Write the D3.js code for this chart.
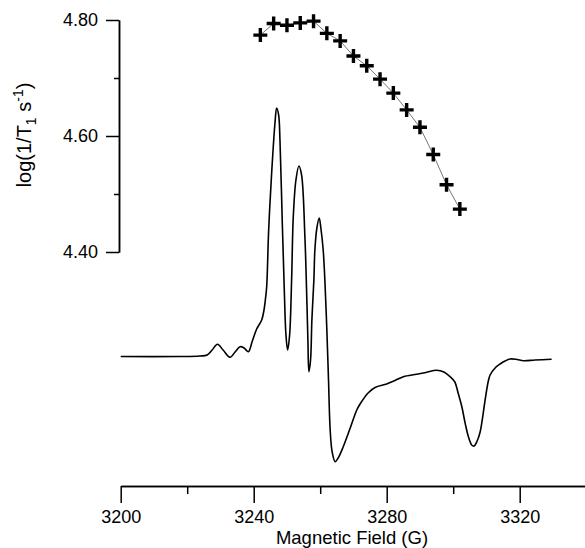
<!DOCTYPE html>
<html>
<head>
<meta charset="utf-8">
<script src="https://cdn.jsdelivr.net/npm/d3@7"></script>
<style>
  body { margin: 0; background: #fff; }
  svg { display: block; font-family: "Liberation Sans", Arial, sans-serif; }
  .axis path, .axis line { stroke: #000; stroke-width: 1.5px; }
  .axis text { fill: #000; font-size: 18px; }
</style>
</head>
<body>
<div id="chart"></div>
<script>
// relaxation data: log(1/T1) against field
var t1Field = [3242, 3246, 3250, 3254, 3258, 3262, 3266, 3270, 3274, 3278, 3282, 3286, 3290, 3294, 3298, 3302];
var t1LogRate = [4.774, 4.794, 4.791, 4.795, 4.798, 4.777, 4.764, 4.738, 4.721, 4.698, 4.674, 4.645, 4.615, 4.568, 4.516, 4.474];

// EPR spectrum (arbitrary intensity units)
var specField = [3200, 3217.8, 3223.8, 3226.0, 3227.5, 3229.1, 3230.8, 3232.9, 3234.4, 3235.9, 3237.1, 3238.4,
    3239.5, 3240.9, 3242.4, 3243.1, 3243.5, 3243.9, 3244.5, 3245.4, 3246.4, 3246.9, 3247.5, 3247.9, 3248.6,
    3249.2, 3249.7, 3250.2, 3250.8, 3251.4, 3251.9, 3252.7, 3253.6, 3254.4, 3255.4, 3255.9, 3256.3, 3256.6,
    3257.1, 3257.5, 3258.1, 3258.4, 3259.0, 3259.7, 3260.2, 3260.9, 3261.4, 3262.0, 3262.5, 3263.0, 3263.6,
    3264.5, 3265.4, 3266.9, 3269.0, 3271.0, 3272.0, 3274.4, 3276.5, 3280.0, 3282.5, 3285.0, 3289.0, 3291.8,
    3295.0, 3297.2, 3299.0, 3300.5, 3301.5, 3302.6, 3303.6, 3304.6, 3305.7, 3306.3, 3307.2, 3308.1, 3309.6,
    3310.5, 3311.1, 3312.6, 3314.1, 3315.6, 3317.1, 3319.2, 3321.1, 3324.6, 3329.6];
var specIntensity = [0.5, 0.5, 1, 2, 7, 12.7, 7, -0.3, 5, 10.3, 9, 5.3,
    15, 28, 37, 47, 57, 70, 127, 184, 234, 249, 242, 217, 134,
    67, 22, 7, 22, 77, 140, 177, 191, 182, 120, 67, 17, -14.7,
    -3, 37, 77, 107, 129, 139, 129, 107, 77, 27, -23, -73, -95,
    -104.7, -101, -90, -71.3, -53, -47, -36, -30.5, -27, -23.5, -19.7, -17.3, -15.5,
    -13.3, -15, -19.5, -25, -36.3, -49.7, -66.3, -80, -88.5, -89, -84, -75, -43,
    -25, -18, -11, -7, -4, -2, -2.5, -3.7, -3, -2.3];

var xMajor = [3200, 3240, 3280, 3320];
var xMinor = [3220, 3260, 3300, 3340];
var yMajor = [4.40, 4.60, 4.80];
var yMinor = [4.50, 4.70];

var width = 585, height = 548;

var svg = d3.select('#chart').append('svg')
    .attr('width', width)
    .attr('height', height);

var x = d3.scaleLinear().domain([3200, 3340]).range([120.7, 586.2]);
var y = d3.scaleLinear().domain([4.40, 4.80]).range([252, 20]);
// spectrum has its own (unlabelled) intensity scale
var yInt = d3.scaleLinear().domain([-130, 250]).range([487, 107]);

// x axis
var xAxisY = 486;
svg.append('g')
    .attr('class', 'axis')
    .attr('transform', 'translate(0,' + xAxisY + ')')
    .call(d3.axisBottom(x).tickValues(xMajor).tickFormat(d3.format('d'))
        .tickSize(17).tickSizeOuter(0).tickPadding(7));
svg.append('g')
    .attr('class', 'axis')
    .attr('transform', 'translate(0,' + xAxisY + ')')
    .call(d3.axisBottom(x).tickValues(xMinor).tickFormat('').tickSize(8).tickSizeOuter(0));

// y axis
var yAxisX = 119;
svg.append('g')
    .attr('class', 'axis')
    .attr('transform', 'translate(' + yAxisX + ',0)')
    .call(d3.axisLeft(y).tickValues(yMajor).tickFormat(d3.format('.2f'))
        .tickSize(13).tickSizeOuter(0).tickPadding(8));
svg.append('g')
    .attr('class', 'axis')
    .attr('transform', 'translate(' + yAxisX + ',0)')
    .call(d3.axisLeft(y).tickValues(yMinor).tickFormat('').tickSize(5).tickSizeOuter(0));

// axis titles
svg.append('text')
    .attr('x', 352)
    .attr('y', 544)
    .attr('text-anchor', 'middle')
    .style('font-size', '18.5px')
    .text('Magnetic Field (G)');

var yTitle = svg.append('text')
    .attr('transform', 'translate(31,135) rotate(-90)')
    .attr('text-anchor', 'middle')
    .style('font-size', '20px');
yTitle.append('tspan').text('log(1/T');
yTitle.append('tspan').attr('dy', 5).style('font-size', '14px').text('1');
yTitle.append('tspan').attr('dy', -5).text(' s');
yTitle.append('tspan').attr('dy', -8).style('font-size', '14px').text('-1');
yTitle.append('tspan').attr('dy', 8).text(')');

// EPR spectrum
var spec = specField.map(function (f, i) { return [f, specIntensity[i]]; });
svg.append('path')
    .datum(spec)
    .attr('fill', 'none')
    .attr('stroke', '#000')
    .attr('stroke-width', 1.6)
    .attr('d', d3.line()
        .x(function (d) { return x(d[0]); })
        .y(function (d) { return yInt(d[1]); })
        .curve(d3.curveCatmullRom.alpha(0.5)));

// T1 points: thin connecting line + bold crosses
var pts = t1Field.map(function (f, i) { return [f, t1LogRate[i]]; });
svg.append('path')
    .datum(pts)
    .attr('fill', 'none')
    .attr('stroke', '#666')
    .attr('stroke-width', 0.9)
    .attr('d', d3.line()
        .x(function (d) { return x(d[0]); })
        .y(function (d) { return y(d[1]); }));

svg.selectAll('.cross')
    .data(pts)
    .enter().append('path')
    .attr('class', 'cross')
    .attr('transform', function (d) { return 'translate(' + x(d[0]) + ',' + y(d[1]) + ')'; })
    .attr('d', 'M-7,0H7M0,-7V7')
    .attr('stroke', '#000')
    .attr('stroke-width', 3.4);
</script>
</body>
</html>
